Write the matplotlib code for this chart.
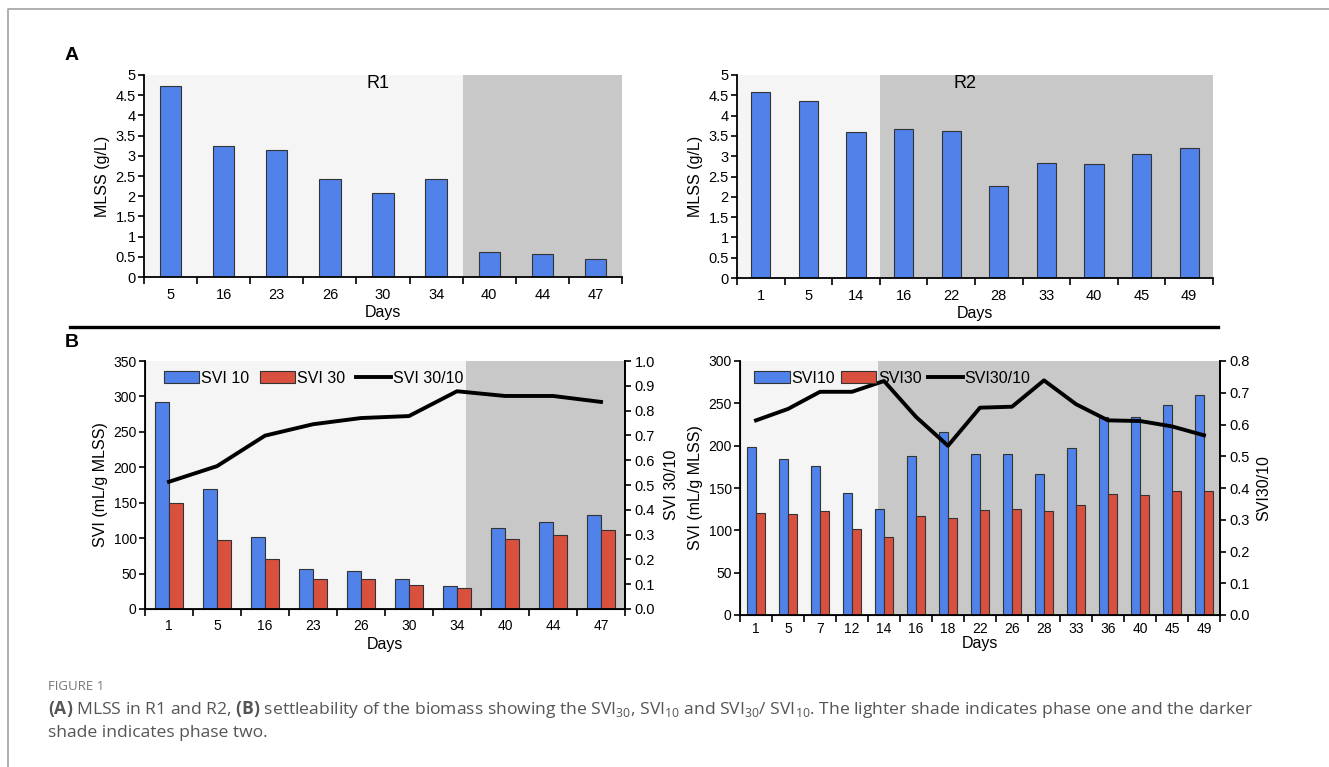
import numpy as np
import matplotlib
matplotlib.use("Agg")
import matplotlib.pyplot as plt
from matplotlib.ticker import FuncFormatter
from matplotlib.lines import Line2D
from matplotlib.patches import Patch

plt.rcParams['font.family'] = ['Liberation Sans', 'DejaVu Sans']
plt.rcParams['mathtext.fontset'] = 'custom'
plt.rcParams['mathtext.rm'] = 'Open Sans'
plt.rcParams['mathtext.bf'] = 'Open Sans:bold'

# ---- data ----
r1_mlss_days = ['5', '16', '23', '26', '30', '34', '40', '44', '47']
r1_mlss = [4.72, 3.24, 3.14, 2.42, 2.07, 2.42, 0.63, 0.58, 0.45]

r2_mlss_days = ['1', '5', '14', '16', '22', '28', '33', '40', '45', '49']
r2_mlss = [4.59, 4.35, 3.60, 3.66, 3.62, 2.27, 2.84, 2.82, 3.06, 3.20]

r1_svi_days = ['1', '5', '16', '23', '26', '30', '34', '40', '44', '47']
r1_svi10 = [292, 170, 102, 56, 54, 43, 32, 115, 123, 133]
r1_svi30 = [150, 97, 71, 42, 42, 34, 29, 99, 105, 111]
r1_ratio = [0.513, 0.576, 0.699, 0.745, 0.770, 0.778, 0.878, 0.859, 0.859, 0.835]

r2_svi_days = ['1', '5', '7', '12', '14', '16', '18', '22', '26', '28', '33', '36', '40', '45', '49']
r2_svi10 = [198, 184, 176, 144, 125, 188, 216, 190, 190, 167, 197, 234, 234, 248, 260]
r2_svi30 = [121, 119, 123, 101, 92, 117, 115, 124, 125, 123, 130, 143, 142, 146, 147]
r2_ratio = [0.613, 0.649, 0.703, 0.703, 0.737, 0.624, 0.533, 0.653, 0.656, 0.739,
            0.664, 0.613, 0.611, 0.594, 0.566]

BLUE = '#5082EA'
RED = '#D9503F'
LIGHT = '#F5F5F5'
DARK = '#C8C8C8'
EDGE = '#333333'

W, H = 1329, 767
fig = plt.figure(figsize=(W / 100, H / 100), dpi=100)


def rect(x0, y0, x1, y1):
    # pixel box -> figure fraction
    return [x0 / W, 1 - y1 / H, (x1 - x0) / W, (y1 - y0) / H]


def style_axes(ax, days, shade_at, right=False, tick_size=10.5):
    n = len(days)
    ax.set_xlim(-0.5, n - 0.5)
    ax.axvspan(-0.5, shade_at, color=LIGHT, zorder=0, lw=0)
    ax.axvspan(shade_at, n - 0.5, color=DARK, zorder=0, lw=0)
    ax.set_xticks(np.arange(n + 1) - 0.5)
    ax.set_xticklabels([])
    ax.set_xticks(np.arange(n), minor=True)
    ax.set_xticklabels(days, minor=True)
    ax.tick_params(axis='x', which='major', length=5, width=1.2, direction='out')
    ax.tick_params(axis='x', which='minor', length=0, pad=8, labelsize=tick_size)
    ax.tick_params(axis='y', length=4, width=1.2, direction='out', labelsize=tick_size, pad=2)
    ax.spines['top'].set_visible(False)
    ax.spines['right'].set_visible(right)
    for s in ('left', 'bottom', 'right'):
        ax.spines[s].set_linewidth(1.3)
    ax.set_xlabel('Days', fontsize=11.5, labelpad=2)


fmt_g = FuncFormatter(lambda v, p: '%g' % v)
fmt_1 = FuncFormatter(lambda v, p: '%.1f' % v)

# ---- A: MLSS R1 ----
ax = fig.add_axes(rect(144, 75, 622, 277))
x = np.arange(len(r1_mlss_days))
ax.bar(x, r1_mlss, width=0.4, color=BLUE, edgecolor=EDGE, lw=0.8, zorder=2)
style_axes(ax, r1_mlss_days, 5.5)
ax.set_ylim(0, 5)
ax.set_yticks(np.arange(0, 5.01, 0.5))
ax.yaxis.set_major_formatter(fmt_g)
ax.set_ylabel('MLSS (g/L)', fontsize=11.5, labelpad=4)
ax.text(0.49, 0.96, 'R1', transform=ax.transAxes, fontsize=13, ha='center', va='center')

# ---- A: MLSS R2 ----
ax = fig.add_axes(rect(737, 75, 1213, 278))
x = np.arange(len(r2_mlss_days))
ax.bar(x, r2_mlss, width=0.4, color=BLUE, edgecolor=EDGE, lw=0.8, zorder=2)
style_axes(ax, r2_mlss_days, 2.5)
ax.set_ylim(0, 5)
ax.set_yticks(np.arange(0, 5.01, 0.5))
ax.yaxis.set_major_formatter(fmt_g)
ax.set_ylabel('MLSS (g/L)', fontsize=11.5, labelpad=4)
ax.text(0.48, 0.96, 'R2', transform=ax.transAxes, fontsize=13, ha='center', va='center')

# ---- B: SVI R1 ----
ax = fig.add_axes(rect(145, 361, 625, 609))
x = np.arange(len(r1_svi_days))
bw = 0.29
ax.bar(x - bw / 2, r1_svi10, width=bw, color=BLUE, edgecolor=EDGE, lw=0.8, zorder=2)
ax.bar(x + bw / 2, r1_svi30, width=bw, color=RED, edgecolor=EDGE, lw=0.8, zorder=2)
style_axes(ax, r1_svi_days, 6.18, right=True, tick_size=10)
ax.tick_params(axis='x', which='minor', pad=7)
ax.xaxis.labelpad = 3
ax.set_ylim(0, 350)
ax.set_yticks(np.arange(0, 351, 50))
ax.set_ylabel('SVI (mL/g MLSS)', fontsize=11.5, labelpad=4)
ax2 = ax.twinx()
ax2.plot(x, r1_ratio, color='black', lw=2.8, zorder=3)
ax2.set_ylim(0, 1.0)
ax2.set_yticks(np.arange(0, 1.01, 0.1))
ax2.yaxis.set_major_formatter(fmt_1)
ax2.tick_params(axis='y', length=4, width=1.2, labelsize=10.5, pad=3)
ax2.spines['top'].set_visible(False)
ax2.spines['right'].set_linewidth(1.3)
ax2.set_ylabel('SVI 30/10', fontsize=11.5, labelpad=6)
handles = [Patch(facecolor=BLUE, edgecolor=EDGE, lw=0.8),
           Patch(facecolor=RED, edgecolor=EDGE, lw=0.8),
           Line2D([], [], color='black', lw=2.8)]
ax2.legend(handles, ['SVI 10', 'SVI 30', 'SVI 30/10'], loc='upper left', ncol=3,
           frameon=False, fontsize=11.5, handlelength=2.2, handleheight=0.8,
           handletextpad=0.1, columnspacing=0.7, borderaxespad=0.2,
           bbox_to_anchor=(0.02, 1.0))

# ---- B: SVI R2 ----
ax = fig.add_axes(rect(740, 361, 1220, 615))
x = np.arange(len(r2_svi_days))
ax.bar(x - bw / 2, r2_svi10, width=bw, color=BLUE, edgecolor=EDGE, lw=0.8, zorder=2)
ax.bar(x + bw / 2, r2_svi30, width=bw, color=RED, edgecolor=EDGE, lw=0.8, zorder=2)
style_axes(ax, r2_svi_days, 3.8, right=True, tick_size=10)
ax.tick_params(axis='x', which='minor', pad=5)
ax.xaxis.labelpad = 0
ax.set_ylim(0, 300)
ax.set_yticks(np.arange(0, 301, 50))
ax.set_ylabel('SVI (mL/g MLSS)', fontsize=11.5, labelpad=4)
ax2 = ax.twinx()
ax2.plot(x, r2_ratio, color='black', lw=2.8, zorder=3)
ax2.set_ylim(0, 0.8)
ax2.set_yticks(np.arange(0, 0.81, 0.1))
ax2.yaxis.set_major_formatter(fmt_1)
ax2.tick_params(axis='y', length=4, width=1.2, labelsize=10.5, pad=3)
ax2.spines['top'].set_visible(False)
ax2.spines['right'].set_linewidth(1.3)
ax2.set_ylabel('SVI30/10', fontsize=11.5, labelpad=4)
ax2.legend(handles, ['SVI10', 'SVI30', 'SVI30/10'], loc='upper left', ncol=3,
           frameon=False, fontsize=11.5, handlelength=2.2, handleheight=0.8,
           handletextpad=0.1, columnspacing=0.4, borderaxespad=0.2,
           bbox_to_anchor=(0.01, 1.0))

# ---- panel letters, separator, frame ----
fig.text(72 / W, 1 - 56 / H, 'A', fontsize=14, fontweight='bold', ha='center', va='center')
fig.text(72 / W, 1 - 342 / H, 'B', fontsize=14, fontweight='bold', ha='center', va='center')
fig.add_artist(Line2D([70 / W, 1218 / W], [1 - 327 / H] * 2, color='black', lw=2.4))
fig.add_artist(Line2D([8 / W, 8 / W, 1.0], [0, 1 - 9 / H, 1 - 9 / H], color='#AAAAAA', lw=1.3))

# ---- caption ----
fig.text(48 / W, 1 - 686 / H, 'FIGURE 1', fontsize=9.5, color='#777777',
         family='Open Sans', va='center')
fig.text(48 / W, 1 - 710 / H,
         r'$\mathbf{(A)}$ MLSS in R1 and R2, $\mathbf{(B)}$ settleability of the biomass showing the '
         r'SVI$_{30}$, SVI$_{10}$ and SVI$_{30}$/ SVI$_{10}$. The lighter shade indicates phase one and the darker',
         fontsize=12.6, color='#555555', family='Open Sans', va='center')
fig.text(48 / W, 1 - 733 / H, 'shade indicates phase two.', fontsize=12.6, color='#555555',
         family='Open Sans', va='center')

fig.savefig('out.png', dpi=100)
